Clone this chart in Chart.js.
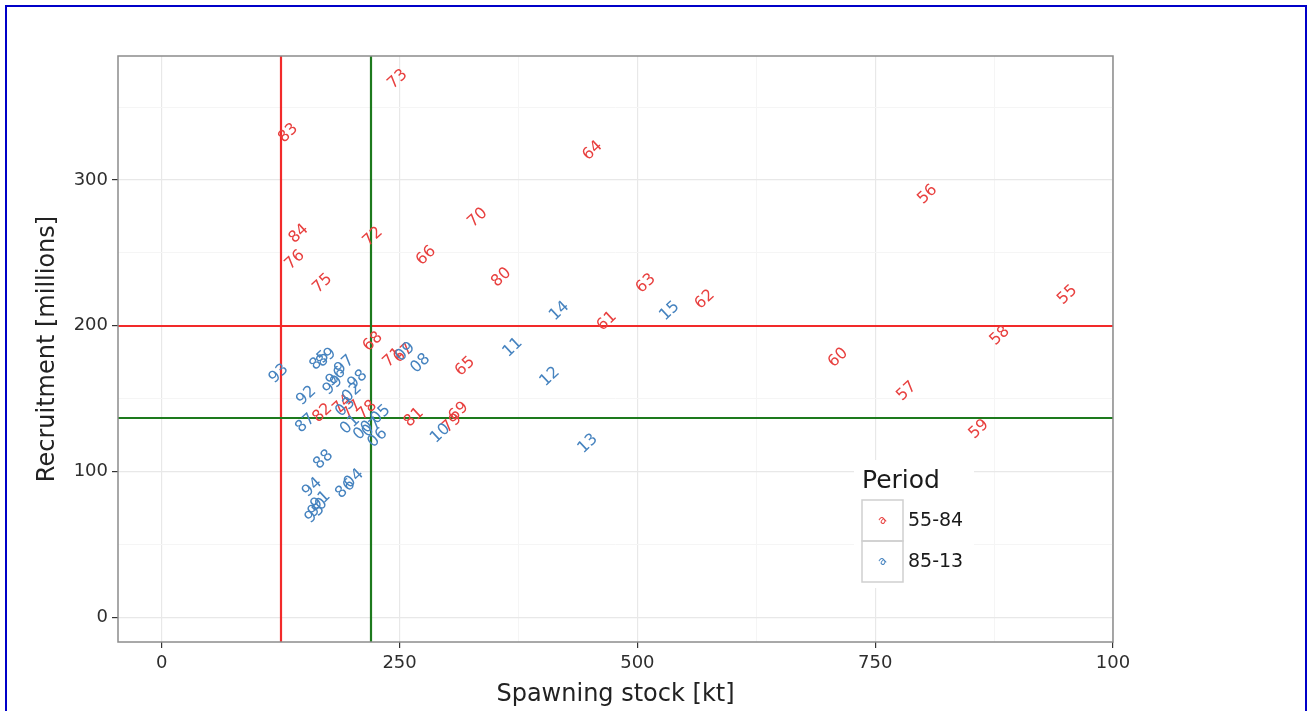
<!DOCTYPE html>
<html>
<head>
<meta charset="utf-8">
<script src="https://cdn.jsdelivr.net/npm/chart.js@4.4.1/dist/chart.umd.min.js"></script>
<style>
  html, body { margin: 0; padding: 0; background: #fff; overflow: hidden; }
  #frame { position: absolute; left: 5px; top: 5px; width: 1298px; height: 780px; border: 2px solid #0000c8; }
  #wrap  { position: absolute; left: 0; top: 0; width: 1312px; height: 711px; }
</style>
</head>
<body>
<div id="frame"></div>
<div id="wrap"><canvas id="sr" width="1312" height="711"></canvas></div>

<script>
/* ── data: spawning stock [kt] vs recruitment [millions], labelled by year ── */
const periods = ['55-84', '85-13'];

const yearsA   = ['55','56','57','58','59','60','61','62','63','64','65','66','67','68','69',
                  '70','71','72','73','74','75','76','77','78','79','80','81','82','83','84'];
const stockA   = [952, 805, 783, 881, 859, 711, 468, 571, 509, 453, 319, 278, 254, 222, 312,
                  332, 243, 222, 248, 190, 169, 140, 200, 216, 305, 357, 265, 169, 133, 144];
const recruitA = [221, 290, 155, 193, 129, 178, 203, 218, 229, 320, 172, 248, 181, 189, 141,
                  274, 178, 261, 369, 146, 229, 245, 142, 142, 133, 233, 137, 140, 332, 263];

const yearsB   = ['85','86','87','88','89','90','91','92','93','94','95','96','97','98','99',
                  '00','01','02','03','04','05','06','07','08','09','10','11','12','13','14','15'];
const stockB   = [166, 193, 151, 170, 173, 164, 167, 152, 123, 158, 161, 183, 192, 206, 180,
                  212, 198, 200, 193, 202, 230, 227, 221, 272, 256, 293, 369, 408, 448, 418, 534];
const recruitB = [176,  88, 133, 108, 178,  75,  80, 152, 167,  89,  71, 165, 173, 163, 159,
                  128, 132, 154, 144,  95, 139, 123, 130, 174, 182, 126, 185, 165, 119, 210, 210];

// reference lines
const refStock   = [125, 220];
const refRecruit = [200, 137];

// axes
const xMajor  = [0, 250, 500, 750, 1000];
const xLabels = ['0', '250', '500', '750', '100'];
const xMinor  = [125, 375, 625, 875];
const yMajor  = [0, 100, 200, 300];
const yLabels = ['0', '100', '200', '300'];
const yMinor  = [50, 150, 250, 350];

/* ── styles ── */
const RED   = '#e8403f';
const BLUE  = '#4683bf';
const LRED  = '#f22a2a';
const LGRN  = '#1d7a1d';
const FONT  = '"DejaVu Sans", sans-serif';

const pairs = (xs, ys) => xs.map((x, i) => ({ x: x, y: ys[i] }));

/* ── plugin: reference lines, rotated year labels, legend, panel border ── */
const srPlugin = {
  id: 'srPlugin',
  beforeDatasetsDraw(chart) {
    const { ctx, chartArea: a, scales: { x, y } } = chart;
    ctx.save();
    ctx.lineWidth = 2.2;
    [LRED, LGRN].forEach((col, i) => {
      ctx.strokeStyle = col;
      const px = Math.round(x.getPixelForValue(refStock[i]));
      ctx.beginPath(); ctx.moveTo(px, a.top); ctx.lineTo(px, a.bottom); ctx.stroke();
      const py = Math.round(y.getPixelForValue(refRecruit[i]));
      ctx.beginPath(); ctx.moveTo(a.left, py); ctx.lineTo(a.right, py); ctx.stroke();
    });
    ctx.restore();
  },
  afterDatasetsDraw(chart) {
    const ctx = chart.ctx;
    ctx.save();
    ctx.font = '16px ' + FONT;
    ctx.textAlign = 'center';
    ctx.textBaseline = 'middle';
    chart.data.datasets.forEach((ds, di) => {
      ctx.fillStyle = ds.textColor;
      chart.getDatasetMeta(di).data.forEach((pt, i) => {
        ctx.save();
        ctx.translate(pt.x, pt.y);
        ctx.rotate(-43 * Math.PI / 180);
        ctx.fillText(ds.years[i], 0, 0);
        ctx.restore();
      });
    });
    ctx.restore();
  },
  afterDraw(chart) {
    const { ctx, chartArea: a } = chart;
    ctx.save();
    // legend (inside panel, lower right)
    const lx = 862, ly = 462;
    ctx.fillStyle = '#fff';
    ctx.fillRect(lx - 8, ly - 2, 120, 128);
    ctx.fillStyle = '#1a1a1a';
    ctx.font = '25px ' + FONT;
    ctx.textAlign = 'left';
    ctx.textBaseline = 'middle';
    ctx.fillText('Period', lx, ly + 19);
    chart.data.datasets.forEach((ds, i) => {
      const ky = ly + 38 + i * 41;
      ctx.strokeStyle = '#cfcfcf';
      ctx.lineWidth = 1.5;
      ctx.strokeRect(lx, ky, 41, 41);
      ctx.save();
      ctx.translate(lx + 20.5, ky + 20.5);
      ctx.rotate(-43 * Math.PI / 180);
      ctx.fillStyle = ds.textColor;
      ctx.font = '12px ' + FONT;
      ctx.textAlign = 'center';
      ctx.fillText('a', 0, 0);
      ctx.restore();
      ctx.fillStyle = '#1a1a1a';
      ctx.font = '19px ' + FONT;
      ctx.fillText(ds.label, lx + 46, ky + 21);
    });
    // panel border
    ctx.strokeStyle = '#8c8c8c';
    ctx.lineWidth = 1.5;
    ctx.strokeRect(a.left, a.top, a.right - a.left, a.bottom - a.top);
    ctx.restore();
  }
};

const isMajor = (list, v) => list.indexOf(v) >= 0;

new Chart(document.getElementById('sr').getContext('2d'), {
  type: 'scatter',
  data: {
    datasets: [
      { label: periods[0], data: pairs(stockA, recruitA), years: yearsA, textColor: RED,
        pointRadius: 0, pointHoverRadius: 0, backgroundColor: RED },
      { label: periods[1], data: pairs(stockB, recruitB), years: yearsB, textColor: BLUE,
        pointRadius: 0, pointHoverRadius: 0, backgroundColor: BLUE }
    ]
  },
  options: {
    responsive: false,
    animation: false,
    events: [],
    layout: { padding: { top: 56, right: 199, left: 0, bottom: 0 } },
    plugins: { legend: { display: false }, tooltip: { enabled: false } },
    scales: {
      x: {
        type: 'linear', min: -46, max: 1000,
        afterBuildTicks: s => { s.ticks = xMajor.concat(xMinor).map(v => ({ value: v })); },
        afterFit: s => { s.height = 69; },
        border: { display: false },
        grid: {
          color: c => isMajor(xMajor, c.tick.value) ? '#e8e8e8' : '#f5f5f5',
          lineWidth: c => isMajor(xMajor, c.tick.value) ? 1.2 : 1,
          tickColor: c => isMajor(xMajor, c.tick.value) ? '#333' : 'rgba(0,0,0,0)',
          tickLength: 6
        },
        ticks: {
          autoSkip: false, maxRotation: 0, padding: 5,
          color: '#2e2e2e', font: { family: FONT, size: 18 },
          callback: v => { const i = xMajor.indexOf(v); return i >= 0 ? xLabels[i] : ''; }
        },
        title: {
          display: true, text: 'Spawning stock [kt]', color: '#222',
          font: { family: FONT, size: 24 }, padding: { top: 0, bottom: 2 }
        }
      },
      y: {
        type: 'linear', min: -17, max: 385,
        afterBuildTicks: s => { s.ticks = yMajor.concat(yMinor).map(v => ({ value: v })); },
        afterFit: s => { s.width = 118; },
        border: { display: false },
        grid: {
          color: c => isMajor(yMajor, c.tick.value) ? '#e8e8e8' : '#f5f5f5',
          lineWidth: c => isMajor(yMajor, c.tick.value) ? 1.2 : 1,
          tickColor: c => isMajor(yMajor, c.tick.value) ? '#333' : 'rgba(0,0,0,0)',
          tickLength: 6
        },
        ticks: {
          autoSkip: false, padding: 4,
          color: '#2e2e2e', font: { family: FONT, size: 18 },
          callback: v => { const i = yMajor.indexOf(v); return i >= 0 ? yLabels[i] : ''; }
        },
        title: {
          display: true, text: 'Recruitment [millions]', color: '#222',
          font: { family: FONT, size: 24 }, padding: { top: 33, bottom: 0 }
        }
      }
    }
  },
  plugins: [srPlugin]
});
</script>
</body>
</html>
